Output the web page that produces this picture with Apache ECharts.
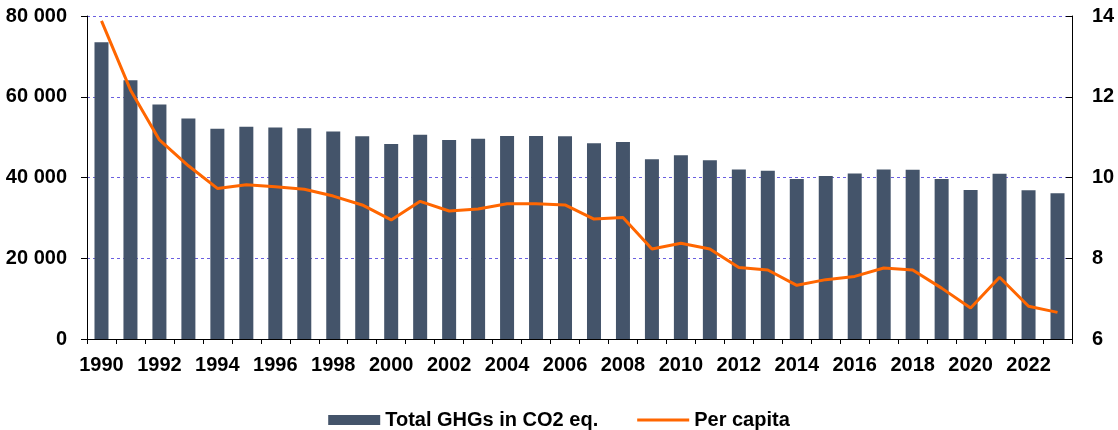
<!DOCTYPE html>
<html>
<head>
<meta charset="utf-8">
<script src="https://cdn.jsdelivr.net/npm/echarts@6/dist/echarts.min.js"></script>
<style>
html,body{margin:0;padding:0;background:#fff;}
#chart{width:1118px;height:430px;}
</style>
</head>
<body>
<div id="chart"></div>
<script>
const years = ['1990','1991','1992','1993','1994','1995','1996','1997','1998','1999','2000','2001','2002','2003','2004','2005','2006','2007','2008','2009','2010','2011','2012','2013','2014','2015','2016','2017','2018','2019','2020','2021','2022','2023'];
const totalGHG = [73500,64100,58100,54600,52100,52600,52400,52200,51400,50200,48300,50600,49300,49600,50300,50300,50200,48500,48800,44500,45500,44300,42000,41700,39600,40400,41000,42000,41950,39600,36900,40900,36850,36100];
const perCapita = [13.88,12.17,10.93,10.29,9.73,9.82,9.77,9.71,9.54,9.32,8.95,9.41,9.17,9.22,9.35,9.35,9.32,8.97,9.01,8.23,8.37,8.23,7.77,7.71,7.33,7.47,7.55,7.76,7.71,7.26,6.77,7.53,6.81,6.66];
const seriesNames = ['Total GHGs in CO2 eq.','Per capita'];

const chart = echarts.init(document.getElementById('chart'), null, {renderer:'canvas'});
const font = 'Liberation Sans, Arial, sans-serif';
const fmt = v => String(v).replace(/\B(?=(\d{3})+(?!\d))/g, ' ');
chart.setOption({
  animation:false,
  backgroundColor:'#fff',
  grid:{left:87,right:46,top:16,bottom:91,containLabel:false},
  legend:{
    top:405,left:'center',itemWidth:52,itemHeight:10,itemGap:39,
    textStyle:{fontFamily:font,fontWeight:'bold',fontSize:20,color:'#000'},
    data:[{name:seriesNames[0],icon:'rect'},{name:seriesNames[1],icon:'path://M0,0 L52,0 L52,3 L0,3 Z'}]
  },
  xAxis:{
    type:'category',data:years,boundaryGap:true,
    axisLine:{lineStyle:{color:'#000',width:1}},
    axisTick:{show:true,interval:0,length:5,lineStyle:{color:'#000'}},
    axisLabel:{interval:1,fontFamily:font,fontWeight:'bold',fontSize:20,color:'#000',margin:16}
  },
  yAxis:[{
    type:'value',min:0,max:80000,interval:20000,
    axisLine:{show:true,lineStyle:{color:'#000'}},
    axisTick:{show:true,length:6,lineStyle:{color:'#000'}},
    axisLabel:{formatter:fmt,fontFamily:font,fontWeight:'bold',fontSize:20,color:'#000',margin:20},
    splitLine:{show:true,lineStyle:{color:'#6a5fe0',type:[3,3],width:1}}
  },{
    type:'value',min:6,max:14,interval:2,position:'right',
    axisLine:{show:true,lineStyle:{color:'#000'}},
    axisTick:{show:true,inside:true,length:6,lineStyle:{color:'#000'}},
    axisLabel:{fontFamily:font,fontWeight:'bold',fontSize:20,color:'#000',margin:20},
    splitLine:{show:false}
  }],
  series:[{
    name:seriesNames[0],type:'bar',data:totalGHG,yAxisIndex:0,barWidth:14,
    itemStyle:{color:'#44546a'}
  },{
    name:seriesNames[1],type:'line',data:perCapita,yAxisIndex:1,
    symbol:'none',lineStyle:{color:'#ff6600',width:3},itemStyle:{color:'#ff6600'}
  }]
});
</script>
</body>
</html>
